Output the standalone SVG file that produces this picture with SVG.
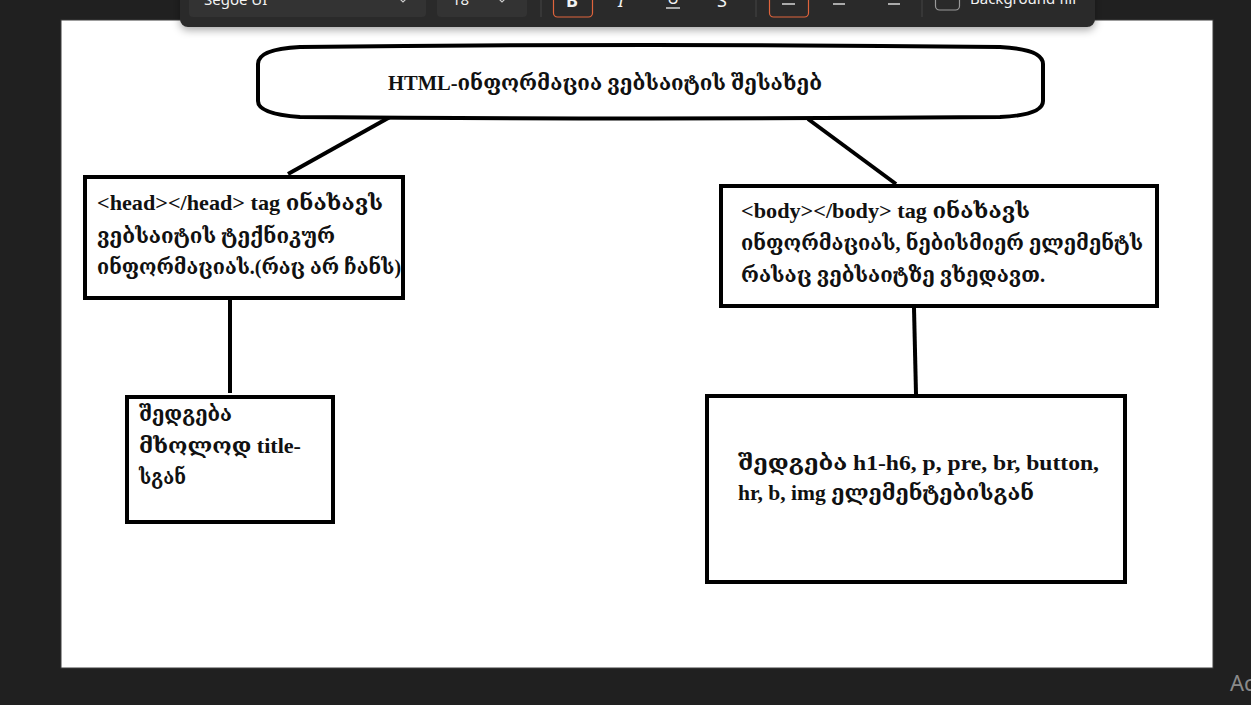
<svg xmlns="http://www.w3.org/2000/svg" width="1251" height="705" viewBox="0 0 1251 705">
  <defs>
    <filter id="shadow" x="-5%" y="-50%" width="110%" height="200%">
      <feDropShadow dx="0" dy="3" stdDeviation="4" flood-color="#000" flood-opacity="0.35"/>
    </filter>
    <style>
      .box { fill: #ffffff; stroke: #000000; stroke-width: 4; }
      .conn { stroke: #000000; stroke-width: 4; fill: none; }
      .t { font-family: "Liberation Serif", "DejaVu Serif", serif; font-weight: bold; font-size: 21px; fill: #111111; }
      .ui { font-family: "Noto Sans", "Open Sans", sans-serif; font-size: 15px; fill: #f2f2f2; }
      .btn { fill: none; stroke: #e0643c; stroke-width: 1.2; }
      .ddl { fill: #333333; }
    </style>
  </defs>

  <!-- background -->
  <rect x="0" y="0" width="1251" height="705" fill="#202020"/>
  <rect x="61" y="20" width="1152" height="648" fill="#ffffff" stroke="#3c3c3c" stroke-width="1"/>

  <!-- toolbar -->
  <g id="toolbar">
    <rect x="180" y="-12" width="915" height="39" rx="8" fill="#2b2b2b" filter="url(#shadow)"/>
    <rect class="ddl" x="189" y="-8" width="237" height="25" rx="4"/>
    <text class="ui" x="204" y="5">Segoe UI</text>
    <path d="M400 -1 l3 3 l3 -3" stroke="#ccc" stroke-width="1.2" fill="none"/>
    <rect class="ddl" x="437" y="-8" width="90" height="25" rx="4"/>
    <text class="ui" x="452" y="5">18</text>
    <path d="M499 -1 l3 3 l3 -3" stroke="#ccc" stroke-width="1.2" fill="none"/>
    <line x1="541" y1="-5" x2="541" y2="17" stroke="#444" stroke-width="1"/>
    <rect class="btn" x="553.5" y="-8" width="39" height="25" rx="4"/>
    <text x="572" y="7" text-anchor="middle" font-family="Noto Sans, sans-serif" font-weight="bold" font-size="18" fill="#f2f2f2">B</text>
    <text x="621" y="7" text-anchor="middle" font-family="Noto Sans, sans-serif" font-style="italic" font-size="18" fill="#f2f2f2">I</text>
    <text x="673" y="4" text-anchor="middle" font-family="Noto Sans, sans-serif" font-size="16" fill="#f2f2f2">U</text>
    <line x1="666" y1="8" x2="680" y2="8" stroke="#f2f2f2" stroke-width="1.3"/>
    <text x="722" y="7" text-anchor="middle" font-family="Noto Sans, sans-serif" font-size="18" fill="#f2f2f2">S</text>
    <line x1="756" y1="-5" x2="756" y2="17" stroke="#444" stroke-width="1"/>
    <rect class="btn" x="769.5" y="-8" width="39" height="25" rx="4"/>
    <line x1="782" y1="4" x2="795" y2="4" stroke="#f2f2f2" stroke-width="1.3"/>
    <line x1="833" y1="4" x2="845" y2="4" stroke="#f2f2f2" stroke-width="1.3"/>
    <line x1="888" y1="4" x2="900" y2="4" stroke="#f2f2f2" stroke-width="1.3"/>
    <line x1="922" y1="-5" x2="922" y2="17" stroke="#444" stroke-width="1"/>
    <rect x="935.5" y="-10" width="24" height="20" rx="4" fill="none" stroke="#9a9a9a" stroke-width="1.2"/>
    <text class="ui" x="970" y="4">Background fill</text>
  </g>

  <!-- connectors -->
  <g id="connectors">
    <line class="conn" x1="390" y1="117" x2="288" y2="174"/>
    <line class="conn" x1="808" y1="119" x2="896" y2="184"/>
    <line class="conn" x1="230" y1="300" x2="230" y2="393"/>
    <line class="conn" x1="914" y1="308" x2="916" y2="394"/>
  </g>

  <!-- title node -->
  <g id="title">
    <path class="box" d="M300 47 Q650 43 1000 47 Q1043 49 1043 64 L1043 101 Q1043 115 1000 117 Q650 120 300 117 Q258 114 258 101 L258 64 Q258 49 300 47 Z"/>
    <text class="t" x="388" y="90" textLength="434" lengthAdjust="spacingAndGlyphs">HTML-ინფორმაცია ვებსაიტის შესახებ</text>
  </g>

  <!-- head node -->
  <g id="head">
    <rect class="box" x="85" y="177" width="318" height="121"/>
    <text class="t" x="97" y="210" textLength="286" lengthAdjust="spacingAndGlyphs">&lt;head&gt;&lt;/head&gt; tag ინახავს</text>
    <text class="t" x="97" y="243" textLength="238" lengthAdjust="spacingAndGlyphs">ვებსაიტის ტექნიკურ</text>
    <text class="t" x="97" y="274" textLength="304" lengthAdjust="spacingAndGlyphs">ინფორმაციას.(რაც არ ჩანს)</text>
  </g>

  <!-- body node -->
  <g id="body">
    <rect class="box" x="721" y="186" width="436" height="120"/>
    <text class="t" x="741" y="218" textLength="289" lengthAdjust="spacingAndGlyphs">&lt;body&gt;&lt;/body&gt; tag ინახავს</text>
    <text class="t" x="741" y="250" textLength="402" lengthAdjust="spacingAndGlyphs">ინფორმაციას, ნებისმიერ ელემენტს</text>
    <text class="t" x="741" y="282" textLength="304" lengthAdjust="spacingAndGlyphs">რასაც ვებსაიტზე ვხედავთ.</text>
  </g>

  <!-- head children -->
  <g id="head-title">
    <rect class="box" x="127" y="397" width="206" height="125"/>
    <text class="t" x="139" y="421" textLength="93" lengthAdjust="spacingAndGlyphs">შედგება</text>
    <text class="t" x="139" y="453" textLength="162" lengthAdjust="spacingAndGlyphs">მხოლოდ title-</text>
    <text class="t" x="139" y="484" textLength="47" lengthAdjust="spacingAndGlyphs">სგან</text>
  </g>

  <!-- body children -->
  <g id="body-elements">
    <rect class="box" x="707" y="396" width="418" height="186"/>
    <text class="t" x="738" y="470" textLength="361" lengthAdjust="spacingAndGlyphs">შედგება h1-h6, p, pre, br, button,</text>
    <text class="t" x="738" y="500" textLength="296" lengthAdjust="spacingAndGlyphs">hr, b, img ელემენტებისგან</text>
  </g>

  <!-- watermark -->
  <text x="1230" y="691" font-family="Noto Sans, sans-serif" font-size="22" fill="#8a8a8a">Ac</text>
</svg>
